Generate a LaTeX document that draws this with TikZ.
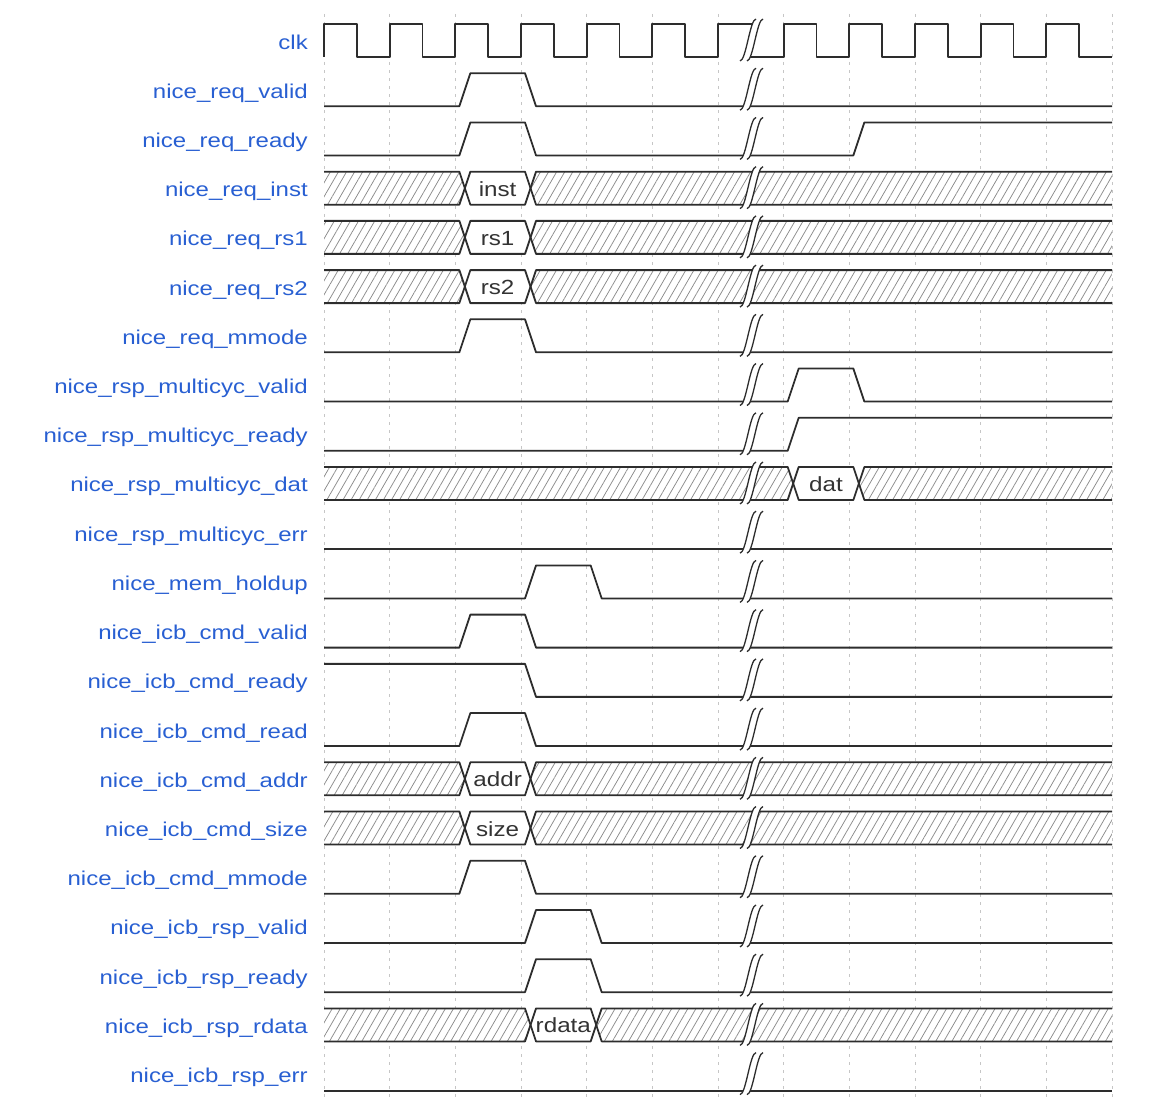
\documentclass[tikz,border=0pt]{standalone}
\usepackage{fontspec}
\setmainfont{Liberation Sans}
\usepackage{tikz}
\usetikzlibrary{patterns.meta}
\definecolor{sigblue}{RGB}{40,95,210}
\definecolor{wavecol}{RGB}{45,45,45}
\tikzstyle{wave}=[draw=wavecol, line width=1.8pt, line join=round]
\tikzstyle{gapline}=[draw=wavecol, line width=1.3pt]
\tikzstyle{grid}=[draw=gray!45, line width=0.8pt, dash pattern=on 3pt off 5pt]
\tikzstyle{hatch}=[pattern={Lines[angle=60, distance=7pt, line width=0.75pt]}, pattern color=gray!90]
\tikzstyle{sig}=[anchor=base east, inner sep=0pt, text=sigblue, font=\fontsize{20}{24}\selectfont, xscale=1.2]
\tikzstyle{dat}=[anchor=base, inner sep=0pt, text=black!80, font=\fontsize{20.5}{24}\selectfont, xscale=1.18]
\newcommand{\tx}[1]{324+65.67*(#1)}
\newcommand{\ytop}[1]{24+49.22*(#1)}
\newcommand{\ybot}[1]{57+49.22*(#1)}
\newcommand{\ymid}[1]{40.5+49.22*(#1)}
\newcommand{\pulse}[3]{%
  \draw[wave] (324,{\ybot{#1}}) -- ({\tx{#2}+4},{\ybot{#1}}) -- ({\tx{#2}+15},{\ytop{#1}})
    -- ({\tx{#3}+4},{\ytop{#1}}) -- ({\tx{#3}+15},{\ybot{#1}}) -- (1112,{\ybot{#1}});}
\newcommand{\lowsig}[1]{\draw[wave] (324,{\ybot{#1}}) -- (1112,{\ybot{#1}});}
\newcommand{\bus}[4]{%
  \fill[white] (324,{\ytop{#1}}) rectangle (1112,{\ybot{#1}});
  \fill[hatch] (324,{\ytop{#1}}) -- ({\tx{#2}+4},{\ytop{#1}}) -- ({\tx{#2}+9.5},{\ymid{#1}})
    -- ({\tx{#2}+4},{\ybot{#1}}) -- (324,{\ybot{#1}}) -- cycle;
  \fill[hatch] ({\tx{#2+1}+15},{\ytop{#1}}) -- (1112,{\ytop{#1}}) -- (1112,{\ybot{#1}})
    -- ({\tx{#2+1}+15},{\ybot{#1}}) -- ({\tx{#2+1}+9.5},{\ymid{#1}}) -- cycle;
  \draw[wave] (324,{\ytop{#1}}) -- ({\tx{#2}+4},{\ytop{#1}}) -- ({\tx{#2}+15},{\ybot{#1}})
    -- ({\tx{#2+1}+4},{\ybot{#1}}) -- ({\tx{#2+1}+15},{\ytop{#1}}) -- (1112,{\ytop{#1}});
  \draw[wave] (324,{\ybot{#1}}) -- ({\tx{#2}+4},{\ybot{#1}}) -- ({\tx{#2}+15},{\ytop{#1}})
    -- ({\tx{#2+1}+4},{\ytop{#1}}) -- ({\tx{#2+1}+15},{\ybot{#1}}) -- (1112,{\ybot{#1}});
  \node[dat] (#4) at ({\tx{#2}+42.3},{\ymid{#1}+8}) {#3};}
\newcommand{\gap}[1]{%
  \fill[white] (740,{\ybot{#1}+4}) .. controls (746,{\ybot{#1}+4}) and (750,{\ytop{#1}-5}) .. (756,{\ytop{#1}-5})
    -- (763,{\ytop{#1}-5}) .. controls (757,{\ytop{#1}-5}) and (753,{\ybot{#1}+4}) .. (747,{\ybot{#1}+4}) -- cycle;
  \draw[gapline] (740,{\ybot{#1}+4}) .. controls (746,{\ybot{#1}+4}) and (750,{\ytop{#1}-5}) .. (756,{\ytop{#1}-5});
  \draw[gapline] (747,{\ybot{#1}+4}) .. controls (753,{\ybot{#1}+4}) and (757,{\ytop{#1}-5}) .. (763,{\ytop{#1}-5});}

\begin{document}
\begin{tikzpicture}[x=1pt, y=-1pt]
  \useasboundingbox (0,0) rectangle (1153,1108);
  \foreach \k in {0,...,12}
    \draw[grid] ({\tx{\k}},14) -- ({\tx{\k}},1100);
  \foreach \k/\name in {0/clk, 1/nice\_req\_valid, 2/nice\_req\_ready, 3/nice\_req\_inst,
      4/nice\_req\_rs1, 5/nice\_req\_rs2, 6/nice\_req\_mmode, 7/nice\_rsp\_multicyc\_valid,
      8/nice\_rsp\_multicyc\_ready, 9/nice\_rsp\_multicyc\_dat, 10/nice\_rsp\_multicyc\_err,
      11/nice\_mem\_holdup, 12/nice\_icb\_cmd\_valid, 13/nice\_icb\_cmd\_ready,
      14/nice\_icb\_cmd\_read, 15/nice\_icb\_cmd\_addr, 16/nice\_icb\_cmd\_size,
      17/nice\_icb\_cmd\_mmode, 18/nice\_icb\_rsp\_valid, 19/nice\_icb\_rsp\_ready,
      20/nice\_icb\_rsp\_rdata, 21/nice\_icb\_rsp\_err}
    \node[sig] (lbl\k) at (308,{\ymid{\k}+8.5}) {\name};
  % clock
  \draw[wave] ({\tx{0}},57) \foreach \i in {0,...,5} { -- ({\tx{\i}},24) -- ({\tx{\i}+32.83},24)
    -- ({\tx{\i}+32.83},57) -- ({\tx{\i+1}},57) } -- ({\tx{6}},24) -- (753,24);
  \draw[wave] (747,57) \foreach \i in {7,...,11} { -- ({\tx{\i}},57) -- ({\tx{\i}},24)
    -- ({\tx{\i}+32.83},24) -- ({\tx{\i}+32.83},57) } -- ({\tx{12}},57);
  % nice_req
  \pulse{1}{2}{3}
  \draw[wave] (324,{\ybot{2}}) -- ({\tx{2}+4},{\ybot{2}}) -- ({\tx{2}+15},{\ytop{2}})
    -- ({\tx{3}+4},{\ytop{2}}) -- ({\tx{3}+15},{\ybot{2}}) -- ({\tx{8}+4},{\ybot{2}})
    -- ({\tx{8}+15},{\ytop{2}}) -- (1112,{\ytop{2}});
  \bus{3}{2}{inst}{inst}
  \bus{4}{2}{rs1}{rs1}
  \bus{5}{2}{rs2}{rs2}
  \pulse{6}{2}{3}
  % nice_rsp
  \pulse{7}{7}{8}
  \draw[wave] (324,{\ybot{8}}) -- ({\tx{7}+4},{\ybot{8}}) -- ({\tx{7}+15},{\ytop{8}}) -- (1112,{\ytop{8}});
  \bus{9}{7}{dat}{dat}
  \lowsig{10}
  \pulse{11}{3}{4}
  % nice_icb
  \pulse{12}{2}{3}
  \draw[wave] (324,{\ytop{13}}) -- ({\tx{3}+4},{\ytop{13}}) -- ({\tx{3}+15},{\ybot{13}}) -- (1112,{\ybot{13}});
  \pulse{14}{2}{3}
  \bus{15}{2}{addr}{addr}
  \bus{16}{2}{size}{size}
  \pulse{17}{2}{3}
  \pulse{18}{3}{4}
  \pulse{19}{3}{4}
  \bus{20}{3}{rdata}{rdata}
  \lowsig{21}
  \foreach \k in {0,...,21} {\gap{\k}}
\end{tikzpicture}
\end{document}
